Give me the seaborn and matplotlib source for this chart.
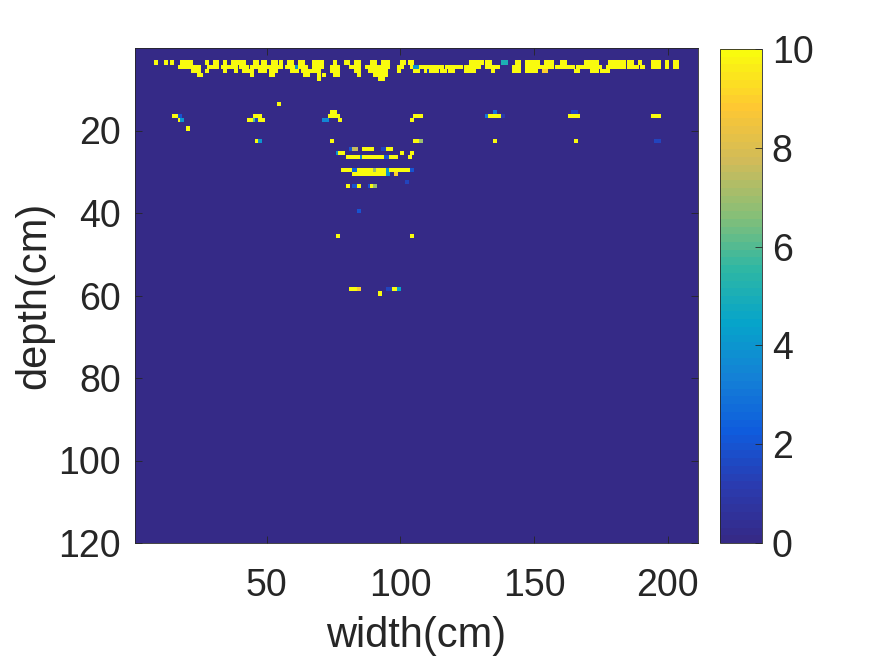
import numpy as np
import pandas as pd
import matplotlib
matplotlib.use('Agg')
import matplotlib.pyplot as plt
from matplotlib.colors import LinearSegmentedColormap
import seaborn as sns

# echoes per depth row: (width from, width to, amplitude), width in cm
depth_3 = [(7.5, 8.5, 10), (11.5, 12.5, 10), (13.5, 14.5, 10), (17.5, 19.5, 10), (20, 21.5, 10), (26.5, 27.5, 10),
           (30, 31.5, 10), (33.5, 35, 10), (36.5, 38.5, 10), (39, 41.5, 10), (45, 46.5, 10), (48, 50, 10),
           (51.5, 53.5, 10), (54.5, 56, 10), (57.5, 59.5, 10), (62, 63.5, 10), (67, 71, 10), (74.5, 76, 10),
           (78.5, 81, 10), (82.5, 84.5, 10), (88.5, 91, 10), (92.5, 96, 10), (100, 101.5, 10), (102.5, 104.5, 10),
           (126, 131, 10), (132, 134, 10), (138, 139.5, 5), (142.5, 144.5, 10), (147, 152, 10), (154, 157, 10),
           (159.5, 162, 10), (168.5, 173.5, 10), (177.5, 183.5, 10), (185, 187, 10), (189, 190, 10),
           (194, 196.5, 10), (198.5, 199.5, 10), (202, 204, 10)]
depth_4 = [(16.5, 24.5, 10), (27.5, 32, 10), (32.5, 36.5, 10), (37, 38.5, 10), (40, 42.5, 10), (44, 56, 10),
           (56.5, 60.5, 10), (60.5, 62, 4), (62, 64.5, 10), (66.5, 71, 10), (73.5, 77, 10), (81, 84.5, 10),
           (87, 96, 10), (98.5, 101, 10), (103.5, 105, 10), (105, 106.5, 4), (106.5, 116, 10), (117, 122.5, 10),
           (124, 130, 10), (132, 137, 10), (142, 145, 10), (147, 157, 10), (157.5, 165, 10), (166, 175, 10),
           (176.5, 183.5, 10), (185, 188.5, 10), (190, 191, 10), (194, 196.5, 10), (198.5, 199.5, 10), (202, 204, 10)]
depth_5 = [(21.5, 24.5, 10), (26.5, 27.5, 10), (33.5, 35, 10), (37.5, 39, 10), (41, 45, 10), (46.5, 50, 10),
           (51, 53.5, 10), (59, 62, 10), (62.5, 66.5, 10), (67, 70, 10), (73.5, 76.5, 10), (82.5, 84.5, 10),
           (87.5, 94.5, 10), (98.5, 99.5, 10), (104.5, 107, 10), (109, 110, 10), (110, 111, 1.5), (111, 113.5, 10),
           (114.5, 116.5, 10), (117.5, 120, 10), (124, 128, 10), (134, 135, 10), (142, 144.5, 10), (147, 150.5, 10),
           (153, 155, 9), (165, 167, 10), (171, 173.5, 10), (175, 177.5, 10)]
depth_6 = [(24, 25.5, 10), (43.5, 45, 10), (51, 52.5, 10), (63.5, 66, 10), (69, 70, 10), (71, 72, 10),
           (75, 76.5, 10), (83.5, 84.5, 10), (90, 94.5, 10)]
depth_7 = [(69, 70, 10), (91.5, 93.5, 10)]
depth_13 = [(54, 55, 10)]
depth_15 = [(74, 76, 10), (134.5, 136, 3), (164, 166, 1.5)]
depth_16 = [(14.5, 16.5, 10), (16.5, 17.5, 2), (45, 47.5, 10), (73, 77, 10), (104.5, 107.5, 10), (131.5, 133, 3),
            (133, 138, 10), (138, 139, 1), (163, 167, 10), (194, 196.5, 10)]
depth_17 = [(16.5, 17.5, 10), (17.5, 18.5, 4), (42.5, 45, 10), (45, 46, 6), (46, 47, 1.5), (47, 49, 10),
            (71, 73, 3.5), (77, 78, 10), (103.5, 104.5, 10)]
depth_19 = [(19.5, 20.5, 10)]
depth_22 = [(45.5, 46.5, 10), (46.5, 47.5, 4), (74, 75, 10), (105, 106.5, 10), (106.5, 107.5, 7),
            (134.5, 135.5, 10), (164.5, 165.5, 10), (195, 196.5, 1.5)]
depth_24 = [(81, 82, 2), (82, 83.5, 7.5), (85.5, 90, 10), (93, 94.5, 1.5), (94.5, 97, 10)]
depth_25 = [(75.5, 76.5, 4), (76.5, 78.5, 10), (100, 101, 10), (104, 105, 10)]
depth_26 = [(79.5, 85, 10), (85, 86, 3.5), (86, 93.5, 10), (93.5, 95.5, 2), (95.5, 98.5, 10), (103, 104, 10)]
depth_29 = [(77.5, 82, 10), (82, 83.5, 2.5), (83.5, 89.5, 10), (89.5, 91, 7), (91, 94.5, 10), (94.5, 95.5, 4),
            (95.5, 103.5, 10), (103.5, 104.5, 2)]
depth_30 = [(82, 94.5, 10), (94.5, 95.5, 4), (97.5, 99, 9)]
depth_32 = [(102, 103, 1.5)]
depth_33 = [(79.5, 81, 10), (82, 83.5, 2), (83.5, 85, 10), (88, 88.5, 2), (88.5, 89.5, 10), (89.5, 91, 7)]
depth_39 = [(83.5, 85, 2)]
depth_45 = [(75.5, 76.5, 10), (104, 105, 10)]
depth_58 = [(80.5, 83.5, 10), (83.5, 85, 9), (94.5, 96.5, 1.5), (96.5, 99, 10), (99, 100, 4.5)]
depth_59 = [(91.5, 93, 10)]

echoes = {3: depth_3, 4: depth_4, 5: depth_5, 6: depth_6, 7: depth_7, 13: depth_13, 15: depth_15, 16: depth_16,
          17: depth_17, 19: depth_19, 22: depth_22, 24: depth_24, 25: depth_25, 26: depth_26, 29: depth_29,
          30: depth_30, 32: depth_32, 33: depth_33, 39: depth_39, 45: depth_45, 58: depth_58, 59: depth_59}

width_ticks = [50, 100, 150, 200]
depth_ticks = [20, 40, 60, 80, 100, 120]
amp_ticks = [0, 2, 4, 6, 8, 10]
parula_colors = ['#352a87', '#2a3bb0', '#0f5cdd', '#1481d6', '#06a4ca', '#2eb7a4',
                 '#87bf77', '#d1bb59', '#fec832', '#f9fb0e']

sns.set_theme(style='white')
plt.rcParams['font.family'] = ['Liberation Sans', 'DejaVu Sans']
plt.rcParams['axes.axisbelow'] = False  # ticks have to sit on top of the mesh
text_col = '#262626'

# grid is 0.5 cm wide by 1 cm deep, starting at width 0.75
dw = 0.5
w0 = 0.75
n_w, n_d = 421, 120
grid = np.zeros((n_d, n_w))
for d, spans in echoes.items():
    for a, b, v in spans:
        # one extra column, the echoes come out a bit too thin otherwise
        grid[d, int(round((a - w0) / dw)):int(round((b - w0) / dw)) + 1] = v
df = pd.DataFrame(grid)

parula = LinearSegmentedColormap.from_list('parula', parula_colors, N=64)

fig = plt.figure(figsize=(8.75, 6.56), dpi=100)
W, H = 875, 656
ax = fig.add_axes([135 / W, 1 - 543 / H, 563 / W, 495 / H])
cax = fig.add_axes([720 / W, 1 - 543 / H, 42 / W, 494 / H])

sns.heatmap(df, ax=ax, cbar_ax=cax, cmap=parula, vmin=0, vmax=10, xticklabels=False, yticklabels=False)

ax.set_xticks([(w - w0) / dw for w in width_ticks])
ax.set_xticklabels(width_ticks, rotation=0)
ax.set_yticks(depth_ticks)
ax.set_yticklabels(depth_ticks, rotation=0)
ax.tick_params(direction='in', length=5, width=0.6, color=text_col, top=True, right=True, bottom=True, left=True,
               labelsize=27, labelcolor=text_col)
ax.tick_params(axis='x', pad=18)
ax.tick_params(axis='y', pad=10)
ax.set_xlabel('width(cm)', fontsize=30, color=text_col, labelpad=9)
ax.set_ylabel('depth(cm)', fontsize=30, color=text_col, labelpad=3)
for s in ax.spines.values():
    s.set_visible(True)
    s.set_linewidth(0.6)
    s.set_color(text_col)

cb = ax.collections[0].colorbar
cb.set_ticks(amp_ticks)
cb.ax.set_axisbelow(False)
cb.ax.tick_params(direction='in', length=5, width=0.6, color=text_col, right=True, labelsize=27,
                  labelcolor=text_col, pad=7)
cb.outline.set_visible(True)
cb.outline.set_linewidth(0.6)
cb.outline.set_edgecolor(text_col)

fig.savefig('out.png', dpi=100)
